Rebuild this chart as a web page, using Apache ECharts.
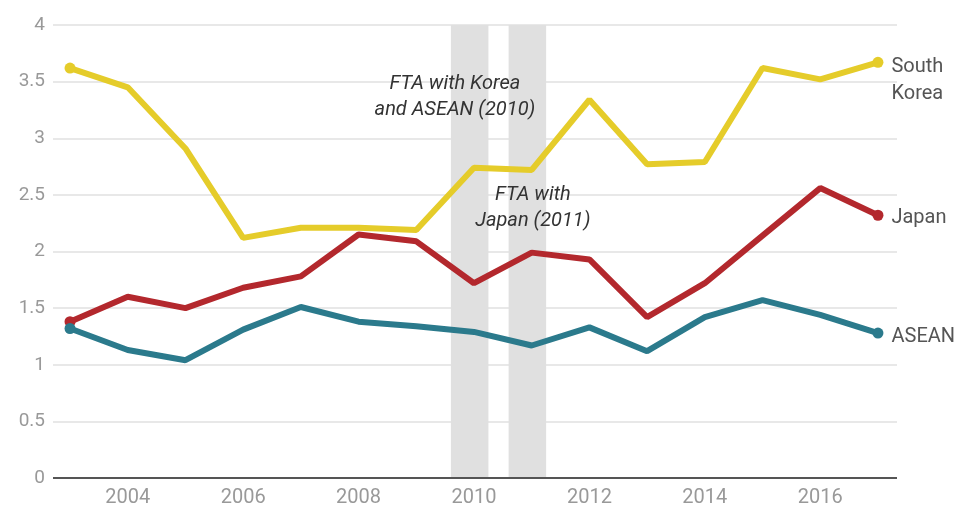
<!DOCTYPE html>
<html>
<head>
<meta charset="utf-8">
<script src="https://cdn.jsdelivr.net/npm/echarts@6/dist/echarts.min.js"></script>
<style>html,body{margin:0;padding:0;background:#fff}#c{width:970px;height:508px}</style>
</head>
<body>
<div id="c"></div>
<script>
const years = [2003,2004,2005,2006,2007,2008,2009,2010,2011,2012,2013,2014,2015,2016,2017];
const southKorea = [3.62,3.45,2.91,2.12,2.21,2.21,2.19,2.74,2.72,3.34,2.77,2.79,3.62,3.52,3.67];
const japan = [1.38,1.60,1.50,1.68,1.78,2.15,2.09,1.72,1.99,1.93,1.42,1.72,2.14,2.56,2.32];
const asean = [1.32,1.13,1.04,1.31,1.51,1.38,1.34,1.29,1.17,1.33,1.12,1.42,1.57,1.44,1.28];
const xTickLabels = [2004,2006,2008,2010,2012,2014,2016];
const ftaBands = [[2009.6, 2010.25], [2010.6, 2011.25]];
const annotations = [
  {text: 'FTA with Korea\nand ASEAN (2010)', x: 2009.67, y: 3.36},
  {text: 'FTA with\nJapan (2011)', x: 2011.02, y: 2.38}
];

const chart = echarts.init(document.getElementById('c'), null, {renderer: 'canvas'});
const FONT = 'Roboto';

function mkSeries(name, label, data, color, labelDy, withMarks) {
  const last = data.length - 1;
  const s = {
    name: name,
    type: 'line',
    data: data.map((v, i) => {
      const item = {value: [years[i], v]};
      if (i === last) {
        item.label = {
          show: true, position: 'right', distance: 8, offset: [0, labelDy],
          formatter: label, color: '#555', fontSize: 20, fontFamily: FONT,
          lineHeight: 27, align: 'left'
        };
      }
      return item;
    }),
    symbol: 'circle',
    showAllSymbol: true,
    symbolSize: (val, p) => (p.dataIndex === 0 || p.dataIndex === last) ? 11 : 0,
    itemStyle: {color: color},
    lineStyle: {color: color, width: 6},
    z: 3,
    animation: false
  };
  if (withMarks) {
    s.markArea = {
      silent: true,
      itemStyle: {color: '#e0e0e0'},
      data: ftaBands.map(b => [{xAxis: b[0], yAxis: 0}, {xAxis: b[1], yAxis: 4}]),
      z: 1
    };
    s.markPoint = {
      silent: true,
      symbol: 'circle', symbolSize: 0,
      data: annotations.map(a => ({
        coord: [a.x, a.y],
        label: {
          show: true, position: 'inside', formatter: a.text,
          color: '#333', fontStyle: 'italic', fontSize: 20, fontFamily: FONT,
          lineHeight: 26, align: 'center'
        }
      }))
    };
  }
  return s;
}

chart.setOption({
  backgroundColor: '#fff',
  animation: false,
  grid: {left: 53, right: 73, top: 25, bottom: 30},
  xAxis: {
    type: 'value', min: 2002.705, max: 2017.33,
    splitLine: {show: false},
    axisTick: {show: false},
    axisLine: {show: false},
    axisLabel: {
      customValues: xTickLabels, color: '#999', fontSize: 20, fontFamily: FONT,
      margin: 10, formatter: v => String(v)
    }
  },
  yAxis: {
    type: 'value', min: 0, max: 4, interval: 0.5,
    splitLine: {lineStyle: {color: '#e8e8e8', width: 2}},
    axisLine: {show: false},
    axisTick: {show: false},
    axisLabel: {color: '#999', fontSize: 19, fontFamily: FONT, margin: 8}
  },
  series: [
    mkSeries('South Korea', 'South\nKorea', southKorea, '#e5cc2a', 18, true),
    mkSeries('Japan', 'Japan', japan, '#b3282d', 3, false),
    mkSeries('ASEAN', 'ASEAN', asean, '#2b7a8c', 4, false),
    {
      type: 'line', silent: true, data: [],
      markLine: {
        silent: true, symbol: 'none', label: {show: false},
        lineStyle: {color: '#555', width: 2, type: 'solid'},
        data: [[{coord: [2002.705, 0]}, {coord: [2017.33, 0]}]]
      }
    }
  ]
});
</script>
</body>
</html>
